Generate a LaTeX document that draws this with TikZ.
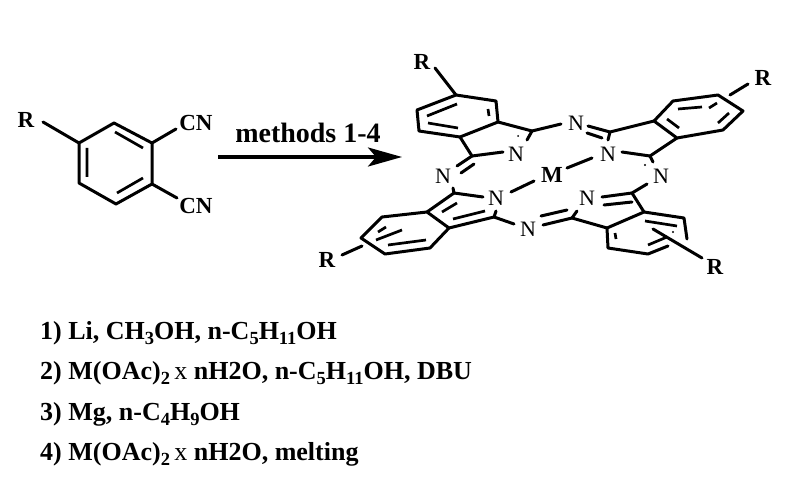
\documentclass[tikz,border=0pt]{standalone}
\usepackage{fontspec}
\setmainfont{Liberation Serif}
\usetikzlibrary{arrows.meta}
\newcommand{\subsc}[1]{\raisebox{-5.5pt}{\fontsize{18.5}{18.5}\selectfont #1}}
\tikzset{
  bond/.style={line width=3pt,line cap=round,line join=round,black},
  inner/.style={line width=2.7pt,line cap=butt,black},
  natom/.style={inner sep=0pt,font=\fontsize{22}{22}\selectfont},
  batom/.style={inner sep=0pt,font=\fontsize{23}{23}\selectfont\bfseries},
  listline/.style={inner sep=0pt,anchor=base west,font=\fontsize{26}{26}\selectfont\bfseries},
  rxn/.style={line width=3.4pt,-{Stealth[length=34pt,width=19pt,inset=8pt]}}
}
\begin{document}
\begin{tikzpicture}[x=1pt,y=-1pt]
\path[use as bounding box,fill=white] (0,0) rectangle (800,497);

% --- starting material ---
\node[batom] (r0) at (26,120) {R};
\node[batom] (cn1) at (196,123) {CN};
\node[batom] (cn2) at (196,206) {CN};
\coordinate (a1) at (79,143); \coordinate (a2) at (114,123); \coordinate (a3) at (152,143);
\coordinate (a4) at (152,184); \coordinate (a5) at (116,204); \coordinate (a6) at (79,183);
\coordinate (r0e) at (43,122); \coordinate (cn1e) at (176,129); \coordinate (cn2e) at (177,198);
\draw[bond] (a1) -- (a2) -- (a3) -- (a4) -- (a5) -- (a6) -- cycle;
\draw[bond] (r0e) -- (a1) (a3) -- (cn1e) (a4) -- (cn2e);
\draw[inner] (87,148) -- (87,177) (115,132) -- (143,148) (117,193) -- (143,178);

% --- reaction arrow ---
\coordinate (arS) at (218,157); \coordinate (arE) at (402,157);
\draw[rxn] (arS) -- (arE);
\node[inner sep=0pt,anchor=base,font=\fontsize{28}{28}\selectfont\bfseries] (meth) at (308,143) {methods 1-4};

% --- atoms of macrocycle ---
\node[batom] (M) at (552,175) {M};
\node[natom] (n1) at (516,154) {N};
\node[natom] (n2) at (576,123) {N};
\node[natom] (n3) at (608,154) {N};
\node[natom] (n4) at (661,176) {N};
\node[natom] (n5) at (443,176) {N};
\node[natom] (n6) at (496,198) {N};
\node[natom] (n7) at (528,229) {N};
\node[natom] (n8) at (587,198) {N};
\node[batom] (r1) at (422,62) {R};
\node[batom] (r2) at (763,78) {R};
\node[batom] (r3) at (327,260) {R};
\node[batom] (r4) at (715,267) {R};

% --- upper left unit ---
\coordinate (b1) at (456,95); \coordinate (b2) at (496,101); \coordinate (b3) at (498,122);
\coordinate (b4) at (460,137); \coordinate (b5) at (419,131); \coordinate (b6) at (417,110);
\coordinate (c1) at (532,131); \coordinate (c2) at (472,156);
\draw[bond] (b1) -- (b2) -- (b3) -- (b4) -- (b5) -- (b6) -- cycle;
\draw[bond] (435,68) -- (b1);
\draw[bond] (b3) -- (c1) -- (527,140);
\draw[bond] (b4) -- (c2) -- (503,152);
\draw[bond] (c1) -- (561,124);
\draw[bond] (c2) -- (457,166) (461,173) -- (474,164);
\draw[inner] (427,116) -- (457,104) (428,123) -- (458,128) (488,109) -- (489,116);
\fill (518,136) circle (1pt);

% --- upper right unit ---
\coordinate (d1) at (654,121); \coordinate (d2) at (673,101); \coordinate (d3) at (718,95);
\coordinate (d4) at (743,111); \coordinate (d5) at (723,130); \coordinate (d6) at (677,138);
\coordinate (e1) at (610,132); \coordinate (e2) at (650,156);
\draw[bond] (d1) -- (d2) -- (d3) -- (d4) -- (d5) -- (d6) -- cycle;
\draw[bond] (730,95) -- (748,84);
\draw[bond] (588,126) -- (e1) -- (d1);
\draw[bond] (587,133) -- (602,138);
\draw[bond] (e1) -- (608,140);
\draw[bond] (d6) -- (e2) -- (622,152);
\draw[bond] (e2) -- (653,162);
\draw[inner] (667,119) -- (679,128) (678,109) -- (702,107) (709,108) -- (717,103) (718,123) -- (729,113);
\fill (645,165) circle (1.2pt);

% --- lower left unit ---
\coordinate (f1) at (427,212); \coordinate (f2) at (449,228); \coordinate (f3) at (430,248);
\coordinate (f4) at (385,254); \coordinate (f5) at (361,238); \coordinate (f6) at (382,217);
\coordinate (g1) at (454,193); \coordinate (g2) at (494,217);
\draw[bond] (f1) -- (f2) -- (f3) -- (f4) -- (f5) -- (f6) -- cycle;
\draw[bond] (342,255) -- (362,246);
\draw[bond] (453,188) -- (g1) -- (483,197);
\draw[bond] (g1) -- (f1);
\draw[bond] (f2) -- (g2) -- (496,211);
\draw[bond] (g2) -- (514,224);
\draw[inner] (442,212) -- (457,203) (453,219) -- (485,211)
  (388,245) -- (426,240) (376,240) -- (402,230) (378,232) -- (386,227);

% --- lower right unit ---
\coordinate (h1) at (644,212); \coordinate (h2) at (684,218); \coordinate (h3) at (687,239);
\coordinate (h4) at (668,246); \coordinate (h5) at (648,254); \coordinate (h6) at (608,248);
\coordinate (h7) at (607,228); \coordinate (k1) at (632,193); \coordinate (k2) at (572,218);
\draw[bond] (h3) -- (h2) -- (h1) -- (h7) -- (h6) -- (h5) -- (h4);
\draw[bond] (647,184) -- (k1) -- (602,197);
\draw[bond] (632,202) -- (604,205);
\draw[bond] (k1) -- (h1);
\draw[bond] (h7) -- (k2) -- (577,211);
\draw[bond] (k2) -- (543,225);
\draw[bond] (541,216) -- (567,210);
\draw[bond] (653,229) -- (702,258);
\draw[inner] (648,245) -- (667,237) (645,221) -- (677,226) (615,233) -- (616,239);
\fill (673,232) circle (1.2pt);

% --- metal bonds ---
\draw[bond] (511,192) -- (534,181);
\draw[bond] (567,168) -- (592,158);

% --- conditions ---
\node[listline] (l1) at (40,339) {1) Li, CH\subsc{3}OH, n-C\subsc{5}H\subsc{11}OH};
\node[listline] (l2) at (40,379) {2) M(OAc)\subsc{2}\,{\mdseries x} nH2O, n-C\subsc{5}H\subsc{11}OH, DBU};
\node[listline] (l3) at (40,420) {3) Mg, n-C\subsc{4}H\subsc{9}OH};
\node[listline] (l4) at (40,460) {4) M(OAc)\subsc{2}\,{\mdseries x} nH2O, melting};
\end{tikzpicture}
\end{document}
